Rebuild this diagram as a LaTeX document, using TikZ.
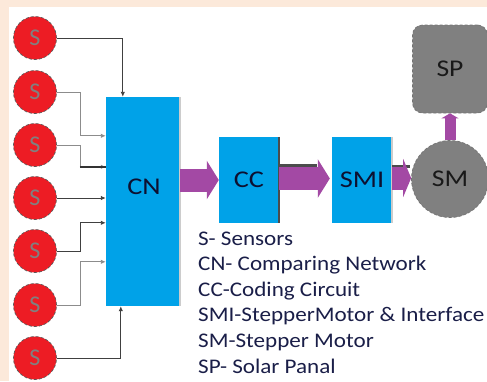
\documentclass[tikz,border=0pt]{standalone}
\usepackage{fontspec}
\usepackage{graphicx}
\setmainfont{Carlito}
\usetikzlibrary{arrows.meta,calc}
\definecolor{bgpeach}{HTML}{FCE9DA}
\definecolor{sred}{HTML}{ED1C24}
\definecolor{cnblue}{HTML}{00A2E8}
\definecolor{apurple}{HTML}{A349A4}
\definecolor{mgray}{HTML}{808080}
\definecolor{txtnavy}{HTML}{1A1E48}
\definecolor{blktxt}{HTML}{0D1030}
\newcommand{\wtext}[2]{\scalebox{#1}[1]{#2}}
\begin{document}
\begin{tikzpicture}[x=1pt,y=-1pt,
  sensor/.style={circle, fill=sred, draw=black!65, densely dashed, line width=0.7pt,
    minimum size=43pt, inner sep=0pt, text=mgray, font=\fontsize{24}{24}\selectfont},
  block/.style={rectangle, fill=cnblue, draw=none, inner sep=0pt,
    font=\fontsize{24}{24}\selectfont, text=blktxt},
  grayshape/.style={fill=mgray, draw=black!55, densely dashed, line width=0.7pt,
    inner sep=0pt, font=\fontsize{24}{24}\selectfont, text=black!90},
  wire/.style={draw=black!75, line width=0.9pt, -{Latex[length=5pt,width=4.5pt]}},
  fat/.style={draw=apurple, line width=23pt, -{Triangle[length=12pt,width=38pt]}},
  fatv/.style={draw=apurple, line width=11pt, -{Triangle[length=5pt,width=17pt]}},
  legend/.style={anchor=base west, inner sep=0pt, text=txtnavy, font=\fontsize{20.8}{20.8}\selectfont}
]
\useasboundingbox (0,0) rectangle (487,381);
\fill[bgpeach] (0,0) rectangle (487,381);
\fill[white] (9,7) rectangle (487,381);

% sensors
\foreach \i/\y in {1/38,2/92,3/145,4/198,5/251,6/305,7/358}{
  \node[sensor] (s\i) at (35,\y) {S};
}

% blocks
\node[block, minimum width=74pt, minimum height=209pt] (cn) at (143,201.5) {};
\node[font=\fontsize{24}{24}\selectfont, text=blktxt] (cnlabel) at (144,187) {\wtext{1.18}{CN}};
\node[block, minimum width=60pt, minimum height=86pt] (cc) at (249,180) {\wtext{1.18}{CC}};
\node[block, minimum width=60pt, minimum height=86pt] (smi) at (362,180) {\wtext{1.18}{SMI}};
\node[grayshape, circle, minimum size=77pt] (sm) at (450,179) {\wtext{1.15}{SM}};
\node[grayshape, rectangle, rounded corners=10pt, minimum width=75pt, minimum height=88pt] (sp) at (450,69) {\wtext{1.15}{SP}};

% right edges of blocks
\draw[black!20, line width=1.5pt] (cn.north east) -- (cn.south east);
\draw[black!70, line width=1.5pt] (cc.north east) -- (cc.south east);
\draw[black!20, line width=1.5pt] (smi.north east) -- (smi.south east);

% sensor wires
\draw[wire] (s1.east) -| ($(cn.north west)+(17,0)$);
\draw[wire, draw=black!45] (s2.east) -- ++(24,0) |- ($(cn.north west)+(0,39)$);
\draw[wire, draw=black!45] (s3.east) -- ++(24,0) |- ($(cn.north west)+(0,70)$);
\draw[black!80, line width=2.5pt] ($(cn.north west)+(-26,70)$) -- ($(cn.north west)+(0,70)$);
\draw[wire] (s4.east) -- (s4.east -| cn.west);
\draw[wire] (s5.east) -- ++(24,0) |- ($(cn.north west)+(0,126)$);
\draw[wire, draw=black!45] (s6.east) -- ++(24,0) |- ($(cn.north west)+(0,165)$);
\draw[wire] (s7.east) -| ($(cn.south west)+(15,0)$);

% purple arrows
\draw[black!70, line width=3pt] ($(cc.east)+(0,-15)$) -- ++(38,0);
\draw[black!70, line width=3pt] ($(smi.east)+(0,-14)$) -- ++(18,0);
\draw[fat] (cn.east |- cc.west) -- (cc.west);
\draw[fat] ($(cc.east)+(0,-1.5)$) -- ($(smi.west)+(-2,-1.5)$);
\draw[fat, -{Triangle[length=8pt,width=38pt]}] ($(smi.east)+(0,-2)$) -- ($(sm.west)+(0,-1)$);
\draw[fatv] (sm.north) -- (sp.south);

% legend
\node[legend] (l1) at (198,245) {\wtext{1.11}{S- Sensors}};
\node[legend] (l2) at (198,270.6) {\wtext{1.11}{CN- Comparing Network}};
\node[legend] (l3) at (198,296.2) {\wtext{1.11}{CC-Coding Circuit}};
\node[legend] (l4) at (198,321.8) {\wtext{1.11}{SMI-StepperMotor \& Interface}};
\node[legend] (l5) at (198,347.4) {\wtext{1.11}{SM-Stepper Motor}};
\node[legend] (l6) at (198,373) {\wtext{1.11}{SP- Solar Panal}};
\end{tikzpicture}
\end{document}
